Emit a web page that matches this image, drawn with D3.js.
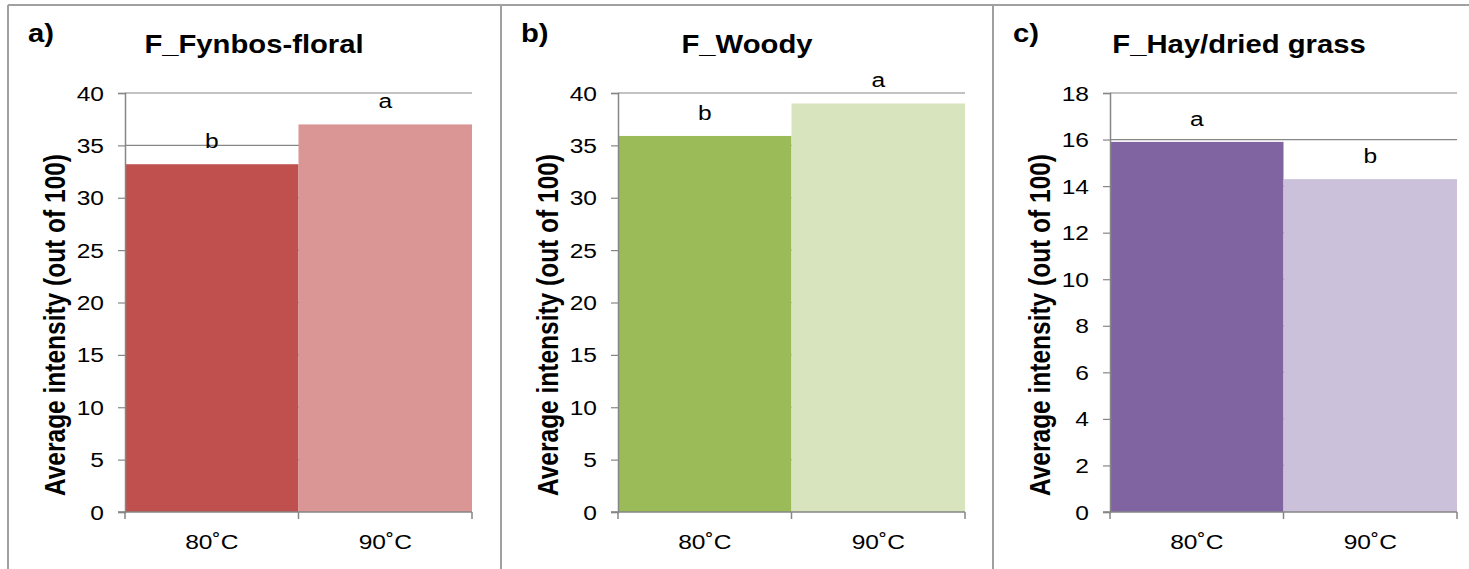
<!DOCTYPE html>
<html>
<head>
<meta charset="utf-8">
<script src="https://cdn.jsdelivr.net/npm/d3@7"></script>
<style>
  html, body { margin: 0; padding: 0; background: #fff; }
  svg { display: block; font-family: "Liberation Sans", Arial, sans-serif; }
</style>
</head>
<body>
<svg id="chart" width="1469" height="569"></svg>
<script>
// Sensory attribute intensities at two temperatures
const categories = ["80˚C", "90˚C"];

const fynbosValues = [33.2, 37.0];
const woodyValues  = [35.9, 39.0];
const hayValues    = [15.9, 14.3];

const fynbosLetters = ["b", "a"];
const woodyLetters  = ["b", "a"];
const hayLetters    = ["a", "b"];

const fynbosTicks = [0, 5, 10, 15, 20, 25, 30, 35, 40];
const woodyTicks  = [0, 5, 10, 15, 20, 25, 30, 35, 40];
const hayTicks    = [0, 2, 4, 6, 8, 10, 12, 14, 16, 18];

const panelTags   = ["a)", "b)", "c)"];
const panelTitles = ["F_Fynbos-floral", "F_Woody", "F_Hay/dried grass"];
const yTitle = "Average intensity (out of 100)";

const panels = [
  { tag: panelTags[0], title: panelTitles[0], values: fynbosValues, letters: fynbosLetters, ticks: fynbosTicks,
    colors: ["#C0504D", "#D99694"], left: 8 },
  { tag: panelTags[1], title: panelTitles[1], values: woodyValues, letters: woodyLetters, ticks: woodyTicks,
    colors: ["#9BBB59", "#D7E4BD"], left: 501 },
  { tag: panelTags[2], title: panelTitles[2], values: hayValues, letters: hayLetters, ticks: hayTicks,
    colors: ["#8064A2", "#CCC1DA"], left: 993 }
];

const SX = 1.17;          // horizontal widening of the lettering
const panelW = 492;
const plotTop = 93, plotBottom = 512;
const gridColor = "#868686";
const borderColor = "#A0A0A0";

const svg = d3.select("#chart");

// helper: text placed at (x,y) with widened glyphs
function label(g, x, y, txt, opts = {}) {
  const t = g.append("text")
    .attr("transform", `translate(${x},${y}) scale(${SX},1)` + (opts.rotate ? ` rotate(${opts.rotate})` : ""))
    .attr("text-anchor", opts.anchor || "middle")
    .attr("font-size", opts.size || 21)
    .attr("font-weight", opts.bold ? "bold" : "normal")
    .attr("fill", "#000")
    .text(txt);
  return t;
}

// Panel frame lines
svg.append("line").attr("x1", 8).attr("x2", 1469).attr("y1", 5).attr("y2", 5)
  .attr("stroke", borderColor).attr("stroke-width", 2);
panels.forEach(p => {
  svg.append("line").attr("x1", p.left).attr("x2", p.left).attr("y1", 5).attr("y2", 569)
    .attr("stroke", borderColor).attr("stroke-width", 2);
});

panels.forEach(p => {
  const g = svg.append("g");
  const x0 = p.left + 117, x1 = p.left + 464;

  const x = d3.scaleBand().domain(categories).range([x0, x1]).padding(0);
  const y = d3.scaleLinear().domain([0, d3.max(p.ticks)]).range([plotBottom, plotTop]);

  // horizontal gridlines
  g.append("g").selectAll("line").data(p.ticks.filter(t => t > 0)).join("line")
    .attr("x1", x0).attr("x2", x1)
    .attr("y1", d => y(d)).attr("y2", d => y(d))
    .attr("stroke", gridColor).attr("stroke-width", 1.2);

  // bars
  g.append("g").selectAll("rect").data(p.values).join("rect")
    .attr("x", (d, i) => x(categories[i]))
    .attr("width", x.bandwidth())
    .attr("y", d => y(d))
    .attr("height", d => y(0) - y(d))
    .attr("fill", (d, i) => p.colors[i]);

  // y axis
  const yAxis = d3.axisLeft(y).tickValues(p.ticks).tickSize(7).tickFormat("");
  const ya = g.append("g").attr("transform", `translate(${x0},0)`).call(yAxis);
  ya.select(".domain").attr("stroke", gridColor).attr("stroke-width", 1.5);
  ya.selectAll(".tick line").attr("stroke", gridColor).attr("stroke-width", 1.2);
  p.ticks.forEach(t => label(g, x0 - 21, y(t) + 7.5, String(t), { anchor: "end", size: 21 }));

  // x axis: baseline with ticks at category boundaries
  g.append("line").attr("x1", x0 - 7).attr("x2", x1).attr("y1", y(0)).attr("y2", y(0))
    .attr("stroke", gridColor).attr("stroke-width", 1.5);
  const bounds = categories.map(c => x(c)).concat([x1]);
  g.append("g").selectAll("line").data(bounds).join("line")
    .attr("x1", d => d).attr("x2", d => d)
    .attr("y1", y(0)).attr("y2", y(0) + 7)
    .attr("stroke", gridColor).attr("stroke-width", 1.5);
  categories.forEach(c => label(g, x(c) + x.bandwidth() / 2, y(0) + 37, c, { size: 21 }));

  // significance letters above bars
  p.values.forEach((v, i) => {
    label(g, x(categories[i]) + x.bandwidth() / 2, y(v) - 16, p.letters[i], { size: 21 });
  });

  // titles
  label(g, p.left + panelW / 2, 53, p.title, { size: 25, bold: true });
  label(g, p.left + 20, 42, p.tag, { anchor: "start", size: 25, bold: true });

  // y axis title
  label(g, p.left + 57, 325, yTitle, { size: 24.5, bold: true, rotate: -90 });
});
</script>
</body>
</html>
